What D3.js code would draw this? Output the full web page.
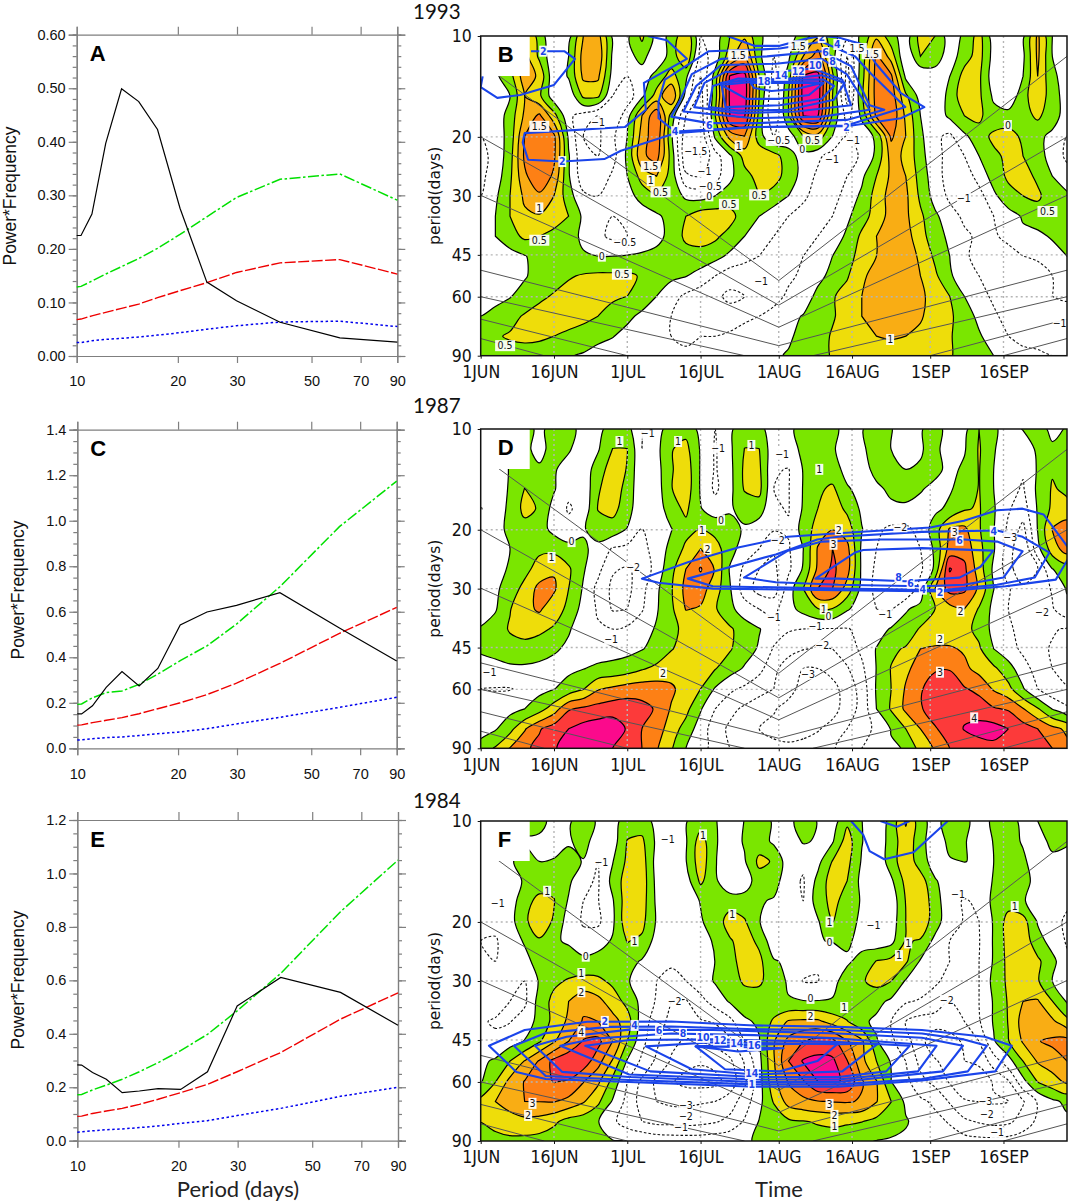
<!DOCTYPE html>
<html>
<head>
<meta charset="utf-8">
<script src="https://cdn.jsdelivr.net/npm/d3@7"></script>
<style>
body { margin: 0; background: #fff; }
svg { display: block; }
</style>
</head>
<body>
<div id="chart"></div>
<script>
// periods (days) sampled by the power spectra on the left
var specPeriods = [10,10.3,11.1,12.2,13.6,15.3,17.4,20.3,24.4,29.9,40.3,60.7,90];

var blackA = [.225,.225,.265,.397,.499,.475,.423,.276,.138,.103,.063,.034,.026];
var greenA = [.129,.13,.14,.153,.167,.182,.201,.227,.26,.296,.33,.34,.291];
var redA   = [.068,.069,.075,.0815,.089,.097,.109,.122,.137,.156,.174,.18,.153];
var blueA  = [.025,.025,.0285,.031,.033,.0355,.039,.0435,.05,.0565,.0635,.065,.055];

var blackC = [.151,.151,.187,.268,.337,.274,.351,.542,.599,.628,.684,.529,.384];
var greenC = [.193,.195,.222,.245,.252,.281,.326,.385,.45,.546,.71,.974,1.174];
var redC   = [.102,.103,.113,.123,.135,.152,.174,.2,.236,.286,.373,.505,.619];
var blueC  = [.037,.037,.042,.047,.05,.056,.064,.072,.086,.107,.136,.18,.224];

var blackE = [.284,.283,.255,.23,.18,.186,.195,.192,.258,.504,.611,.555,.432];
var greenE = [.172,.173,.19,.208,.23,.258,.292,.337,.398,.486,.626,.857,1.05];
var redE   = [.091,.092,.102,.111,.121,.136,.155,.18,.211,.258,.33,.455,.553];
var blueE  = [.032,.033,.037,.041,.044,.049,.055,.065,.075,.094,.121,.166,.2];

var specTicks = [10,20,30,50,70,90];
var periodTicks = [10,20,30,45,60,90];
var dateTicks = [0,15,30,45,61,76,92,107];
var dateLabels = ["1JUN","16JUN","1JUL","16JUL","1AUG","16AUG","1SEP","16SEP"];

// wavelet grid: rows are periods, columns are days since 1 June (every 3 days)
var gridPeriods = [10,11.5,13.2,15.1,17.3,19.9,22.8,26.2,30,34.5,39.6,45.4,52,59.8,68.6,78.7,90];
var gridDays = d3.range(0,121,3);

var fieldB = [
[-.2,.1,.6,1.1,.3,-.5,-.2,1,1.2,-.1,-.1,.6,-.2,.1,1,-.5,-.3,.5,.9,.1,-.3,-.2,.2,.9,.2,-.4,.1,.9,.2,-.3,.7,.5,-.3,.1,.7,-.3,-.4,-.1,1.1,0,-.3],
[-.2,0,.6,1.2,.4,-.4,0,1.2,1.4,-.1,-.2,.2,-.4,.2,1,-.7,-.3,.8,1.6,.1,-.5,-.1,1,1.8,.2,-1,.2,1.6,.8,-.5,.5,.3,-.3,.3,.7,-.2,-.4,-.1,1.1,0,-.3],
[-.3,-.1,.3,1.3,.9,-.4,.05,1.1,1.1,-.2,-.5,-.3,.2,.7,.1,-1,.2,2.55,2.7,.5,-.7,.2,2.55,2.7,.6,-1.2,.3,1.7,1.6,-.1,-.5,-.3,0,.7,.6,-.3,-.5,0,1,.1,-.2],
[-.3,-.3,0,1,.6,-.3,-.4,.6,.6,-.5,-.8,-.1,.7,1.5,-.2,-1.2,.3,2.6,2.8,.5,-1,.5,2.7,2.8,.5,-1.2,.4,1.7,1.8,.6,-.2,-.5,.2,.8,.6,-.1,-.4,.3,.9,.2,-.2],
[-.4,-.3,.2,1.1,1.6,.7,-.4,-.7,-1,-1,-.2,1,1.9,.3,-1,-1.3,.5,2.5,2.55,.3,-1,.5,2.5,2.55,.4,-.7,.1,1.6,1.9,.9,0,-.3,.1,.5,.6,.2,.2,.3,.6,.2,-.2],
[-.5,-.3,.2,1.5,1.95,1.6,-.1,-1,-1.1,-.6,0,1.2,1.9,.1,-1.3,-1.4,.1,1.2,1.5,.2,-.5,-.3,.5,.8,0,-.5,-.3,.1,1.6,1,.1,-.4,-.6,-.1,.3,.6,.7,.4,.1,-.1,-.5],
[-.6,-.4,.3,1.6,1.98,1.6,.05,-.9,-1,-.7,.1,1.4,1.7,.3,-1.4,-1.5,-.7,-.1,.7,.9,.7,.2,-.2,-.4,-.7,-.8,-.4,.1,1.2,.9,.2,-.4,-.6,-.5,0,.4,.6,.5,.2,-.2,-.6],
[-.6,-.3,.4,1.4,1.9,1.4,.05,-.8,-.9,-.4,0,.7,1,.3,-.9,-1,-.7,-.1,.3,.7,.7,.3,-.2,-.6,-.9,-.5,-.1,.5,1.1,1,.3,-.3,-.7,-.8,-.3,.2,.6,.7,.4,0,-.3],
[-.5,-.1,.5,1.1,1.4,1,.2,-.4,-.5,-.4,-.2,.2,.5,.3,-.1,-.2,0,.2,.4,.5,.3,0,-.4,-.7,-.7,-.3,.1,.7,1.2,1.1,.4,-.2,-.6,-1,-.7,-.1,.3,.5,.6,.2,.1],
[-.3,0,.5,.9,.95,.8,.5,-.1,-.4,-.5,-.4,-.3,-.1,.2,.5,.8,.8,.7,.2,0,-.3,-.5,-.7,-.6,-.5,-.1,.3,.7,1.2,1.1,.6,.1,-.3,-.6,-.8,-.5,-.2,.05,.2,.3,.2],
[-.2,0,.3,.6,.5,.3,.2,-.1,-.4,-.6,-.5,-.4,-.2,.2,.6,.7,.6,.3,0,-.3,-.5,-.6,-.8,-.5,-.3,.1,.6,1,1.3,1.2,.7,.2,-.1,-.4,-.6,-.6,-.3,-.1,-.1,.05,.25],
[-.3,-.2,-.2,-.03,.2,.3,.2,.05,0,0,.03,.1,.2,.3,.3,.3,.15,-.1,-.3,-.5,-.6,-.6,-.5,-.3,0,.3,.7,1,1.3,1.3,.9,.4,0,-.4,-.7,-.8,-.8,-.5,-.4,-.2,0],
[-.3,-.2,-.2,-.05,.2,.3,.45,.55,.6,.6,.6,.45,.25,.1,.02,-.2,-.5,-.8,-.9,-1,-.8,-.6,-.4,-.1,.1,.45,.9,1.2,1.3,1.3,1,.6,.05,-.2,-.5,-.8,-1,-1,-.8,-.5,-.3],
[-.3,-.2,-.03,.2,.4,.55,.7,.75,.7,.6,.5,.25,0,-.3,-.6,-.8,-.9,-1.1,-1,-.9,-.7,-.4,-.2,.1,.45,.7,1,1.3,1.4,1.4,1.1,.8,.5,0,-.3,-.6,-.9,-.9,-.7,-.5,-.4],
[0,.2,.35,.55,.7,.75,.7,.65,.5,.25,.1,-.1,-.3,-.5,-.7,-.8,-.8,-.8,-.6,-.5,-.3,-.1,.02,.2,.45,.7,1,1.2,1.3,1.25,1.05,.8,.6,.2,-.1,-.4,-.7,-.8,-.9,-.9,-.8],
[.3,.45,.55,.6,.6,.5,.4,.25,.1,.02,-.15,-.3,-.4,-.5,-.6,-.5,-.5,-.4,-.3,-.2,-.1,-.05,.1,.3,.55,.7,.9,1,1.05,1,.9,.7,.55,.25,.05,-.2,-.5,-.7,-.7,-.7,-.7],
[.1,.2,.3,.3,.2,.1,.03,-.05,-.15,-.25,-.3,-.35,-.4,-.4,-.4,-.4,-.3,-.25,-.2,-.1,-.05,.03,.1,.3,.55,.65,.7,.75,.75,.7,.65,.6,.55,.3,.1,0,-.2,-.3,-.4,-.5,-.5]
];

var fieldD = [
[-.3,-.3,.2,.5,-.3,.5,.5,-.5,-.3,.5,.4,-1.1,-.4,.5,.7,-.3,-1,-.2,.7,.3,-.5,-.3,.5,.7,.3,-.4,-.05,.4,.05,-.5,-.1,.5,-.5,-.3,1,.2,-.5,.05,.5,-.3,.1],
[-.5,-.3,.1,.3,-.4,.5,.1,-.5,-.1,1.02,1.02,-1,-.3,.95,1.3,-.1,-1.1,-.2,1.02,1.02,-.7,-.2,.1,.5,.1,-.4,-.1,.25,0,-.6,-.1,.4,-.8,-.1,1.1,.1,-.7,-.7,.2,.2,.05],
[-.6,-.4,.05,.5,.2,.1,-.4,-.6,.5,1.5,.95,-1,-.4,.9,1.6,-.1,-1.1,-.3,1.2,1.2,-.9,-1.05,.05,.6,.4,-.3,-.4,.3,.3,0,.1,.3,-.3,.2,1.05,0,-.5,-.9,.1,.9,.3],
[-.7,-.5,.1,1.02,.5,.1,-.8,-.8,.9,1.5,.7,-.9,-.5,.95,1.6,-.1,-1.2,-.3,1.1,1.3,-1,-1.05,.05,.8,1.2,.1,-.3,-.2,.2,.4,.1,-.3,-.1,.4,1.05,0,-.7,-1.1,.2,1.1,.8],
[-1.05,-.5,.2,1.3,.9,-.4,-1.1,-.7,1.05,1.3,.5,-.9,-.6,.6,1.2,.05,-.5,-.1,.3,.5,-.9,-1.05,.1,1,1.5,.8,-.2,-.5,-.2,-.2,-.4,-.2,.2,.9,1.1,.1,-.9,-1.5,.1,1.2,1.3],
[-.5,-.3,.2,.6,.4,-.3,-.7,-.1,.5,.6,-.05,-1,-.9,-.05,.7,1.05,.7,.3,-.1,-.6,-.9,-.9,.4,1.4,1.95,1.5,.05,-.8,-1.2,-1.2,-.7,.5,2.1,2.2,1.1,.05,-1.2,-2.3,.05,2.05,2.6],
[-.7,-.4,0,.6,.8,.7,.35,.15,-.3,-1.1,-1.3,-1.3,-.6,.3,1.2,2,1.4,.4,-.5,-1,-1.9,-1.1,-.02,2.1,3,2.3,-.2,-1,-1.6,-1.6,-1,.2,2.4,2.7,1.3,.1,-1.5,-3,-.3,1.5,2.5],
[-.8,-.3,.1,.7,1.4,1.9,1.15,.1,-.7,-1.9,-2.1,-1.7,-.6,.7,2,3.1,1.9,-.1,-1.2,-2,-2.2,-1.2,.1,2.2,3.2,2.4,-.2,-1.2,-2,-2,-1.2,.2,4.1,3.2,1.5,-.2,-1.5,-3,-2,-.02,.4],
[-.6,-.2,.5,1.3,2.3,2.15,1,-.1,-1.3,-2.2,-2.3,-1.3,-.2,.9,2.3,2.4,1.5,.1,-1.5,-2.4,-2.5,-.5,1,3,3,1.6,-.3,-1.3,-2,-1.9,-.6,2,3.4,3.2,1.8,.02,-.9,-1.7,-1.6,-.9,.1],
[-.3,-.1,.95,1.7,2.15,1.4,.8,-.4,-1.1,-2.1,-2,-1.1,-.1,.8,2.05,1.9,1.1,.25,-.5,-1,-1.3,-.3,.3,.95,.95,.1,-.4,-1,-1.1,-.1,.3,1,1.6,2,.9,-.3,-1,-1.2,-1.6,-1.1,-.3],
[.05,.5,1.1,1.3,1.2,.9,.1,-.5,-.9,-1,-.8,-.4,.1,.8,1.2,1.4,1.4,1.15,.5,.05,-.5,-.9,-1,-1.05,-1.05,-1.05,-.8,-.5,.1,.4,1.1,1.5,1.5,1.3,.7,-.3,-.9,-1.2,-1.6,-1.9,-2.1],
[.1,.3,.6,.7,.5,.15,-.2,-.5,-.5,-.4,-.3,-.05,.3,.95,1.3,1.5,1.5,1.1,.4,-.1,-1.1,-1.6,-1.95,-2.1,-2,-1.5,-.8,.05,.8,1.1,2,2.1,2.1,1.9,1.15,0,-.6,-1.2,-1.7,-2.1,-2.5],
[-.3,-.3,-.2,-.2,-.3,-.4,-.2,-.03,.2,.3,.5,.9,1.25,1.5,1.5,1.4,1.05,.4,-.1,-.7,-1.7,-2.6,-3,-3,-2.7,-2.1,-1.2,.03,1.05,1.8,2.4,2.9,2.95,2.2,1.7,1.2,.4,-.6,-1.4,-2,-2.5],
[-1,-1.05,-1.05,-.8,-.3,-.03,.4,.95,1.9,2.2,2.5,2.6,2.5,2.2,1.5,1,-.1,-.8,-1.2,-1.7,-2,-2.6,-3.4,-3.6,-3.3,-2.6,-1.6,.1,1,2.1,2.9,3.5,3.5,3.1,2.7,1.9,1.3,.1,-1,-1.7,-1.9],
[-.8,-.6,-.3,0,.6,1.5,2.9,3.2,3.4,3.6,3.6,3.3,2.9,1.9,1.3,.1,-1,-1.7,-2.2,-2.5,-2.9,-3.4,-3.7,-3.8,-3.4,-2.5,-1.7,0,1.1,2.2,2.9,3.5,3.7,3.8,3.6,3.1,2.9,2.05,1.1,-.05,-.8],
[-.4,-.1,.7,1.9,2.9,3.5,4,4.4,4.6,4.6,3.9,3,2.5,1.5,.6,-.5,-1.5,-2.2,-2.5,-3,-3.3,-3.4,-3.4,-3.1,-2.6,-2,-1.4,-.8,.05,1,2,2.9,3.5,4.05,4.3,4.4,4,3.5,3,2.3,1.8],
[.4,1.1,2.05,2.8,3.3,3.9,4.4,4.7,4.6,4,3.5,3,2.1,1.1,0,-.7,-1.3,-2,-2.2,-2.7,-2.7,-2.8,-2.6,-2.4,-2.1,-1.6,-1,-.5,-.1,.05,1.4,2.1,3,3.4,3.6,3.7,3.6,3.3,3.2,3,2.3]
];

var fieldF = [
[-.3,-.3,-.3,.2,.3,-.3,-.1,.4,-.1,-.4,.5,.5,-.3,-.5,-.05,.5,.05,-.4,.02,.4,-.1,-.3,.5,-.05,-.5,.8,.02,-.7,.3,2.1,.4,-.5,.7,.3,-.5,.2,.5,-.3,0,.3,.2],
[-.5,-.5,-.4,-.1,-.2,-.5,-.1,.3,-.4,-.5,1.05,1.2,-.2,-1,-.1,1.5,.1,-.5,.1,.5,-.2,-.6,.1,-.1,-.1,1.5,.05,-.7,.4,1.7,.4,-.7,.3,.1,-.6,.05,.4,-.1,-.5,.3,.1],
[-.5,-.4,-.1,.3,0,.1,.3,-.05,-1,-.05,1.2,1.5,-.4,-1,-.05,1.6,.1,-1,-.1,1.25,.9,-.6,-.8,-.3,1.05,1.3,-.1,-.8,.5,1.7,.5,-.5,-.1,.02,-.1,0,.5,.2,-.6,-.3,-.3],
[-.6,-.5,-.4,.1,.3,.7,.2,-.8,-1.1,.3,1.5,1.6,-.3,-1,-.5,1.2,.2,-.9,-.5,.5,.4,-.6,-1.1,.3,1.5,1,-.3,-1,-.2,1.3,1.5,.1,-.5,-.6,-.8,.1,.5,.1,-.1,-.6,-.7],
[-.8,-.6,-.4,.5,1.4,1.05,-.1,-1,-1.05,-.1,1.6,1.5,-.2,-.8,-.5,.05,.5,.6,.4,.1,-.1,-.6,-1,.5,1.3,.6,-.1,-1,-.7,1.05,1.7,.5,-.8,-1.05,-.9,.3,.6,.1,-.5,-.9,-.9],
[-1,-.7,-.4,.85,1.5,.9,-.5,-1.1,-1.2,-.2,1.7,1.3,-.1,-.9,-.9,-.1,.5,1.4,1.1,.02,-.3,-.5,-.6,-.1,1.05,.4,-.2,-1,-.6,1,1.7,.5,-.7,-1.05,-1,.1,1.4,1.4,-.1,-.8,-1.1],
[-1,-1.1,-.5,.1,.9,.1,-.1,-.7,-.4,.1,1.05,.8,-.4,-.9,-.8,-.3,.1,.9,1.4,.8,-.7,-.5,-.5,-.02,.02,.1,-.2,-.6,-.3,1.1,.9,-.3,-1,-1.1,-1.05,.1,1.4,1.6,.4,-.4,-1.1],
[-.7,-1,-.9,-.3,.4,.7,.4,.3,.4,.4,.35,-.1,-.7,-.9,-1,-.7,.02,.6,1.5,1.25,.1,-.2,-.6,-.9,-.3,-.1,.2,1.05,1.3,1.15,-.1,-.7,-1,-1.2,-1,.1,1.3,1.6,1.2,.3,-.8],
[-.3,-.7,-.9,-1,.1,.8,1.1,1.3,1.2,.8,.1,-.5,-1,-1.2,-1,-.5,.1,.4,1.2,1.2,.4,-.1,-1.05,-1.05,-.2,.3,.9,1.3,1.02,-.1,-.5,-.9,-1.2,-1.3,-1,.3,1.2,1.4,1.1,0,-.5],
[-.2,-.6,-1,-1.2,.4,1.3,2,2.7,2.3,1.5,.7,-.3,-1.1,-2,-2.1,-1.3,-.6,.1,.3,.4,.2,.05,.05,.05,.05,.3,.6,.3,-.2,-.9,-1.1,-1.3,-2,-1.6,-1,.1,1.1,2,2.1,1.02,-.1],
[-.9,-1.1,-1.05,-.5,.3,1.3,2.2,3.1,3,2.4,1.5,-.5,-1.5,-2.3,-2.4,-2.1,-1.9,-1.3,-.1,.1,1.2,2.1,2.2,2.2,1.6,1.05,.2,-.2,-1,-2,-2.4,-2.6,-2.4,-2,-1.1,.1,1.05,2.4,2.5,2.2,1.3],
[-1,-.8,-.4,.05,.9,1.9,3,4.1,4.3,3,1,-.7,-1.8,-2.8,-3.1,-3,-2.7,-2.2,-1,-.05,1.9,3.3,4,4.4,4.3,3.1,2.2,.1,-.8,-1.6,-2.7,-3.6,-3.5,-2.8,-2,-.1,.95,2.1,2.95,3.2,3.4],
[-.2,.15,1,2.05,3.1,4.3,4.9,4.6,3.4,1.9,-.1,-1.2,-2.2,-3.1,-3.7,-3.9,-3.7,-3.2,-1.9,-.3,1.9,4,5.1,5.3,5.2,4.05,2.3,1,-.1,-1,-2.3,-2.9,-3.4,-3,-2.8,-1.5,-.4,1,2.1,2.5,3],
[-.1,.95,2.3,3.05,3.6,4.05,3.9,3.05,2.2,.7,-1,-2.2,-3.2,-3.9,-4.3,-4.4,-4.3,-3.6,-2.2,-.4,1.7,3.1,3.9,5,5.1,4.9,3.1,2.05,0,-.7,-1.7,-2.3,-3.1,-3.7,-3.6,-2.9,-2.1,-.3,1.05,1.6,2.2],
[1.3,2,2.5,3,3.02,3.05,2.7,2.1,1.2,-.1,-1.3,-2.4,-3,-3.2,-3.2,-3.1,-3,-2.5,-1.5,-.3,1.1,2.4,2.7,2.95,3.05,3.1,2.9,2.05,1.02,-.2,-.8,-1.2,-2.1,-2.9,-3.02,-3.1,-3,-2.1,-.9,-.2,.2],
[1.02,1.3,1.5,1.7,1.6,1.2,.6,.4,.05,-.8,-1.5,-2,-2.3,-2.3,-2.4,-2.3,-2.1,-1.7,-.9,.05,.2,.8,.95,1.08,1.2,1.1,1.03,.7,.4,.1,-.4,-.7,-1.1,-1.8,-2.1,-2.3,-2.2,-1.6,-.8,-.4,-.2],
[.5,.7,.8,.7,.6,.4,.3,.2,.1,.05,-.02,-.1,-.3,-.4,-.4,-.4,-.3,-.2,-.1,.1,.6,.6,.6,.6,.5,.5,.1,-.02,-.1,-.2,-.3,-.4,-.5,-.6,-.7,-.7,-.6,-.4,-.3,-.2,-.1]
];

var shadeLevelsB = [0,.5,1,1.5,2,2.5];
var shadeColorsB = ["#7ae600","#eedd0a","#f9ad14","#fd8015","#fc3a3a","#fb0a8c"];
var shadeLevelsD = [0,1,2,3,4];
var shadeColorsD = ["#7ae600","#eedd0a","#fd8015","#fc3a3a","#fb0a8c"];
var shadeLevelsF = [0,1,2,3,4,5];
var shadeColorsF = ["#7ae600","#eedd0a","#f9ad14","#fd8015","#fc3a3a","#fb0a8c"];
var dashLevelsB = [-.5,-1,-1.5,-2];
var dashLevelsD = [-1,-2,-3,-4];

// cone of influence lines (day, period)
var coiLines = [
  [[0,12],[61,53.7],[120,11.5]],
  [[0,20],[61,63.6],[120,20]],
  [[0,29.9],[61,74],[120,29.9]],
  [[0,50],[61,84],[120,50]]
];
var coiShort = [
  [[0,60],[54,90]], [[120,60],[68,90]],
  [[0,70],[30,90]], [[120,70],[92,90]],
  [[0,80],[13,90]], [[120,80],[107,90]]
];

// blue contours of the second field (day, period)
var blueOpenB = [
  [[.4,13.2],[0,14.2],[3.4,15.3],[8.1,15],[15,14],[19.3,11.7],[17.1,11.1],[10.3,11.1]],
  [[34.2,10],[38.1,10.3],[42.2,11.7],[33.4,13.8],[33.8,16.6],[29.5,18.7],[9,19.5],[8.6,20.8],[9.7,23.4],[16.7,23.7],[25.3,23.3],[28.7,22],[39.8,19.5],[56,18.7],[74.9,18.6],[86,17.6],[90.8,16.3],[86,14.8],[80.9,12.1],[78.3,10.6],[73.2,10.1],[69.8,10],[66.4,10.2],[61.2,10.7],[56,10.7],[50.5,10]]
];
var blueB = [
  [[39.8,19.3],[36.4,17.6],[36.4,15.7],[37.7,13.5],[46.7,11.1],[55.2,11],[61.2,10.9],[69.8,10.4],[76.6,11.5],[80,13],[86.9,16.3],[74.9,18.5],[56,18.7]],
  [[46.7,18.2],[39,17.4],[40.7,15.7],[43.2,13],[49.2,11.7],[58.6,11.5],[69.8,11.1],[75.8,12.3],[79.6,16.1],[82.6,16.6],[74.9,17.8],[56,18.2]],
  [[41.5,16.8],[44.1,14.1],[49.2,12.2],[60.4,12.1],[69.8,11.7],[74.9,13],[79.6,16.6],[69.8,17.4],[56,17.6]],
  [[43.7,16.3],[45.8,13.8],[50.1,12.8],[60.4,12.8],[68,12.5],[74,13.5],[75.8,16.1],[64.6,16.8],[52.7,17]],
  [[46.7,16.3],[47.5,14.1],[52.7,13.4],[61.2,13.5],[69.8,13.1],[74.5,13.8],[72.3,15.5],[62.9,16.6],[52.7,16.7]],
  [[49.2,13.8],[56,13.5],[62,13.5],[70.2,13.5],[72.3,14.1],[69.8,15.4],[61.2,16.1],[50.1,16.3]],
  [[49.2,14],[56,13.7],[62.9,13.7],[70.2,13.8],[67.2,15],[61.2,15.4],[54.4,15.4]],
  [[55.2,13.8],[62,13.8],[69.8,13.8],[64.6,14.4],[59.5,14.6],[56,14.3]]
];
var blueD = [
  [[33,28],[42.4,25],[52.7,22.6],[62.9,21],[73.2,20.5],[92,19.7],[98.9,18.8],[105.7,17.5],[110.9,17.3],[115.2,18],[121,23.4],[117.7,28.2],[107.4,29.5],[94.6,30.6],[73.2,30.3],[47.5,30],[36.4,28.8]],
  [[42.4,28],[60.4,23.7],[68.9,21.4],[73.2,21],[90.3,20.3],[105.7,20.1],[110.9,21],[116.4,23.4],[113.4,27.8],[105.7,29.2],[94.6,30.3],[73.2,30],[47.5,29.5]],
  [[53.9,27.8],[62.9,23.1],[69.8,21.7],[81.8,21.4],[98.9,21.4],[105.7,21.7],[110.9,23.2],[107,27.8],[98.9,29.2],[90.3,29.5],[73.2,29.2],[60.4,28.7]],
  [[68.5,28],[76.6,23.4],[78.3,23],[90.3,22.7],[104.9,23.1],[102.3,25.8],[98,27.8],[86.9,28.5],[73.2,28]]
];
var blueOpenF = [
  [[75.8,10],[78.3,11],[79.6,12.3],[82.6,13],[88.6,12.4],[95.6,10]],
  [[81.8,10],[85.2,10.4],[87.8,10]]
];
var blueF = [
  [[1.7,46.8],[9,42],[21.8,39.7],[39,39.6],[56,40.7],[73.2,41.1],[90.3,42],[103.2,44],[108.7,46.8],[105.3,55.8],[90.3,59.4],[73.2,62],[56,62],[30.4,60],[13.3,58.8],[7.3,56]],
  [[6.8,46.8],[13.3,42.9],[26.1,41.1],[39,41],[56,41.8],[73.2,42],[90.3,43],[98.9,44.8],[103.6,46.8],[99.7,55.8],[90.3,58.8],[73.2,61],[56,61],[30.4,59.2],[13.3,57.6]],
  [[11.1,46.8],[17.6,44],[30.4,41.9],[47.5,42],[73.2,43],[90.3,44.3],[98.7,46.8],[94.6,55.8],[73.2,60],[56,60],[30.4,58],[16.7,56]],
  [[16.3,46.8],[23.5,44.5],[39,43],[56,43.5],[73.2,44.5],[93.3,46.8],[89.5,55.8],[73.2,59],[56,59],[30.4,57]],
  [[21.4,46.8],[30.4,45],[47.5,44.8],[73.2,45.6],[87.8,46.8],[83,55.8],[73.2,58],[56,58],[34.7,55.8]],
  [[33.8,47],[47.5,45.7],[73.2,46.3],[81.3,46.1],[74,55.8],[56,57],[43.2,55]],
  [[44,47],[60.4,46.3],[73.2,46],[68.9,52],[61.2,55.8],[50,55]],
  [[44,47],[52.7,48.7],[62,47.6],[52.7,47.2]]
];

// contour labels: day, period, text
var labelsB = [[12,18.6,"1.5"],[12,32.6,"1"],[12,40.7,"0.5"],[24.8,45.4,"0"],[28.9,51.4,"0.5"],[5,84,"0.5"],[34.8,24.5,"1.5"],[34.8,27,"1"],[36.8,29.2,"0.5"],[46.8,30,"0"],[50.8,31.8,"0.5"],[57,29.8,"0.5"],[52.8,21.3,"1"],[61,20.5,"\u22120.5"],[65.8,21.8,"0"],[67.9,20.4,"0.5"],[76.2,20.5,"\u22121"],[71.9,23.3,"\u22121"],[44,22,"\u22121.5"],[45.8,25.4,"\u22121"],[47,28,"\u22120.5"],[29.5,41.3,"\u22120.5"],[83.8,80.5,"1"],[116,33.4,"0.5"],[107.9,18.5,"0"],[98.9,30.4,"\u22121"],[57.4,53.8,"\u22121"],[118.5,72,"\u22121"],[24,18.1,"\u22121"],[52.7,11.4,"1.5"],[80,11.3,"1.5"],[65,10.7,"1.5"],[77,10.9,"1.5"]];
var labelsD = [[28.4,10.9,"1"],[18.6,21.7,"0"],[14.5,24.2,"1"],[40.4,10.9,"1"],[55.4,11.2,"1"],[48.6,11.4,"\u22121"],[49.2,18.7,"0"],[45.3,20.1,"1"],[46.4,22.8,"2"],[31.2,25.8,"\u22122"],[26.7,42.5,"\u22121"],[1.8,53.3,"\u22121"],[37.3,53.6,"2"],[34.2,10.3,"\u22121"],[60,36.4,"\u22121"],[61.7,11.9,"\u22121"],[69.3,13.2,"1"],[85.9,19.6,"\u22122"],[73.3,20,"2"],[72.2,22.1,"3"],[60.8,21.5,"\u22122"],[70.2,34.5,"1"],[71.2,36.3,"0"],[82.8,35.7,"\u22121"],[68.5,38.8,"\u22121"],[69.9,44.4,"\u22122"],[67,54,"\u22123"],[94,42.5,"2"],[94,53.3,"3"],[101,73,"4"],[98.2,35,"2"],[114.9,35.2,"\u22122"],[108.4,21,"\u22123"],[97,20.3,"3"]];
var labelsF = [[13.6,16.2,"1"],[24.7,13.3,"\u22121"],[3.5,17.6,"\u22121"],[31.5,22.8,"1"],[45.5,11,"1"],[38.3,11.3,"\u22121"],[21.5,25.3,"0"],[20.6,28.5,"1"],[20.6,32.3,"2"],[51.5,19,"1"],[39.7,34.5,"\u22122"],[42,70.5,"\u22123"],[42,76,"\u22122"],[41,82,"\u22121"],[10.6,69.5,"3"],[9.7,75.5,"2"],[20.6,42.5,"4"],[71.4,20,"1"],[71.4,23,"0"],[67.5,33.8,"0"],[74.4,36,"1"],[67.5,38.2,"2"],[85.6,25.2,"1"],[87.5,23.1,"1"],[109.3,18,"1"],[80.4,20.4,"\u22121"],[97.7,16.5,"\u22121"],[95.4,34.3,"\u22122"],[103.3,68.6,"\u22123"],[103.6,75,"\u22122"],[105.7,85,"\u22121"],[71.4,70,"3"],[72.4,75.5,"2"],[72.4,81.5,"1"]];
var blueLabelsB = [[12.8,11.1,"2"],[16.7,23.7,"2"],[39.8,19.3,"4"],[46.8,18.4,"6"],[74.9,18.7,"2"],[58,13.6,"18"],[61.5,13.1,"14"],[65,12.7,"12"],[68.5,12.2,"10"],[72,11.9,"8"],[70.6,11.2,"6"],[73,10.6,"4"],[69.8,10.1,"2"]];
var blueLabelsD = [[94,30.8,"2"],[90.5,30.1,"4"],[88,28.9,"6"],[85.5,27.7,"8"],[98,21.5,"6"],[105,20.2,"4"]];
var blueLabelsF = [[25.4,39.6,"2"],[31.5,40.7,"4"],[36.5,42,"6"],[41.4,43,"8"],[45.5,44.2,"10"],[49,45,"12"],[52.4,46,"14"],[56,46.7,"16"],[55.5,56.6,"14"],[55.5,61,"1"]];

var svg = d3.select("#chart").append("svg")
  .attr("width", 1072)
  .attr("height", 1203)
  .attr("font-family", "'Liberation Sans', Arial, sans-serif");

var condensed = "'DejaVu Sans Condensed', 'DejaVu Sans', sans-serif";
var axisGrey = "#7f7f7f";

// left column: power spectra
function specPanel(box, maxY, majorStep, minorStep, fmt, series, letter) {
  var x = d3.scaleLog().domain([10,90]).range([box.left, box.right]);
  var y = d3.scaleLinear().domain([0,maxY]).range([box.bottom, box.top]);
  var majors = d3.range(0, Math.round(maxY/majorStep)+1).map(function(i){ return i*majorStep; });
  var minors = d3.range(0, Math.round(maxY/minorStep)+1).map(function(i){ return i*minorStep; });
  var g = svg.append("g");

  function styleAxis(a) {
    a.selectAll("path").attr("stroke", axisGrey).attr("stroke-width", 1.2);
    a.selectAll("line").attr("stroke", axisGrey).attr("stroke-width", 1.2);
    a.selectAll("text").attr("font-size", 14.5).attr("font-family", "'Liberation Sans', Arial, sans-serif").attr("fill", "#111");
  }
  var noLabel = function(){ return ""; };
  g.append("g").attr("transform","translate(0,"+box.bottom+")")
    .call(d3.axisBottom(x).tickValues(specTicks).tickFormat(d3.format("d")).tickSizeOuter(0).tickSize(7).tickPadding(13)).call(styleAxis);
  g.append("g").attr("transform","translate(0,"+box.top+")")
    .call(d3.axisTop(x).tickValues(specTicks).tickFormat(noLabel).tickSizeOuter(0).tickSize(8)).call(styleAxis);
  g.append("g").attr("transform","translate("+box.left+",0)")
    .call(d3.axisLeft(y).tickValues(minors).tickFormat(noLabel).tickSizeOuter(0).tickSize(4)).call(styleAxis);
  g.append("g").attr("transform","translate("+box.left+",0)")
    .call(d3.axisLeft(y).tickValues(majors).tickFormat(d3.format(fmt)).tickSizeOuter(0).tickSize(8).tickPadding(3)).call(styleAxis);
  g.append("g").attr("transform","translate("+box.right+",0)")
    .call(d3.axisRight(y).tickValues(minors).tickFormat(noLabel).tickSizeOuter(0).tickSize(4)).call(styleAxis);
  g.append("g").attr("transform","translate("+box.right+",0)")
    .call(d3.axisRight(y).tickValues(majors).tickFormat(noLabel).tickSizeOuter(0).tickSize(8)).call(styleAxis);

  var line = d3.line()
    .x(function(d,i){ return x(specPeriods[i]); })
    .y(function(d){ return y(d); });

  g.append("path").attr("d", line(series[3])).attr("fill","none").attr("stroke","#0000ee").attr("stroke-width",1.5).attr("stroke-dasharray","2.5,2.5");
  g.append("path").attr("d", line(series[2])).attr("fill","none").attr("stroke","#ee0000").attr("stroke-width",1.4).attr("stroke-dasharray","11,2.5");
  g.append("path").attr("d", line(series[1])).attr("fill","none").attr("stroke","#00e000").attr("stroke-width",1.5).attr("stroke-dasharray","11,2.5,2.5,2.5");
  g.append("path").attr("d", line(series[0])).attr("fill","none").attr("stroke","#000").attr("stroke-width",1.2);

  g.append("text").attr("x", box.left+13).attr("y", box.top+26.5)
    .attr("font-size", 22).attr("font-weight","bold").text(letter);
  g.append("text")
    .attr("transform","translate("+box.titleX+","+box.titleY+") rotate(-90)")
    .attr("text-anchor","middle").attr("font-size", 17.5).attr("fill","#111").text("Power*Frequency");
}

specPanel({left:76.7,right:397.3,top:34.7,bottom:356,titleX:16,titleY:196}, .6, .1, .02, ".2f", [blackA,greenA,redA,blueA], "A");
specPanel({left:77.3,right:396.7,top:429.7,bottom:748.3,titleX:24,titleY:590}, 1.4, .2, .05, ".1f", [blackC,greenC,redC,blueC], "C");
specPanel({left:77.3,right:398,top:820,bottom:1140.7,titleX:24,titleY:980}, 1.2, .2, .05, ".1f", [blackE,greenE,redE,blueE], "E");

// right column: wavelet power
var rowToPeriod = d3.scaleLinear().domain(d3.range(gridPeriods.length)).range(gridPeriods);

function wavePanel(id, box, field, shadeLevels, shadeColors, dashLevels, blue, blueOpen, labels, blueLabels, letter) {
  var x = d3.scaleLinear().domain([0,120]).range([box.left, box.right]);
  var y = d3.scaleLog().domain([10,90]).range([box.top, box.bottom]);
  var nx = gridDays.length, ny = gridPeriods.length;
  var flat = d3.merge(field);
  var contours = d3.contours().size([nx,ny]).smooth(true);
  var ringLine = d3.line().curve(d3.curveCatmullRomClosed.alpha(.5));

  function ringPath(c) {
    var parts = [];
    c.coordinates.forEach(function(poly){
      poly.forEach(function(ring){
        var pts = ring.slice(0,-1).map(function(p){
          var day = (p[0]-.5)*3;
          var row = p[1]-.5;
          var per = row < 0 ? gridPeriods[0]*Math.pow(gridPeriods[1]/gridPeriods[0], row) : rowToPeriod(row);
          if (row > ny-1) per = 90*Math.pow(90/78.7, row-(ny-1));
          return [x(day), y(per)];
        });
        parts.push(ringLine(pts));
      });
    });
    return parts.join("");
  }

  svg.append("clipPath").attr("id","clip"+id).append("rect")
    .attr("x",box.left).attr("y",box.top).attr("width",box.right-box.left).attr("height",box.bottom-box.top);
  var g = svg.append("g");
  var plot = g.append("g").attr("clip-path","url(#clip"+id+")");

  // shaded bands
  shadeLevels.forEach(function(level,i){
    plot.append("path").attr("d", ringPath(contours.contour(flat, level)))
      .attr("fill", shadeColors[i]).attr("fill-rule","evenodd")
      .attr("stroke","#000").attr("stroke-width",1.2);
  });
  // negative contours
  dashLevels.forEach(function(level){
    plot.append("path").attr("d", ringPath(contours.contour(flat, level)))
      .attr("fill","none").attr("stroke","#111").attr("stroke-width",1.1).attr("stroke-dasharray","2.6,2");
  });

  // dotted grid
  dateTicks.slice(1).forEach(function(d){
    plot.append("line").attr("x1",x(d)).attr("x2",x(d)).attr("y1",box.top).attr("y2",box.bottom)
      .attr("stroke","#b5b5b5").attr("stroke-width",1.4).attr("stroke-dasharray","2,3");
  });
  periodTicks.slice(1,-1).forEach(function(d){
    plot.append("line").attr("x1",box.left).attr("x2",box.right).attr("y1",y(d)).attr("y2",y(d))
      .attr("stroke","#b5b5b5").attr("stroke-width",1.4).attr("stroke-dasharray","2,3");
  });

  // cone of influence
  var plain = d3.line().x(function(d){return x(d[0]);}).y(function(d){return y(d[1]);});
  coiLines.concat(coiShort).forEach(function(l){
    plot.append("path").attr("d",plain(l)).attr("fill","none").attr("stroke","#555").attr("stroke-width",1);
  });

  // second field in blue
  blue.forEach(function(l){
    plot.append("path").attr("d",plain.curve(d3.curveLinearClosed)(l)).attr("fill","none")
      .attr("stroke","#1a44ea").attr("stroke-width",2.1).attr("stroke-linejoin","round");
  });
  blueOpen.forEach(function(l){
    plot.append("path").attr("d",plain.curve(d3.curveLinear)(l)).attr("fill","none")
      .attr("stroke","#1a44ea").attr("stroke-width",2.1).attr("stroke-linejoin","round");
  });

  function addLabels(list, color) {
    var lab = plot.selectAll(null).data(list).enter().append("g")
      .attr("transform",function(d){ return "translate("+x(d[0])+","+y(d[1])+")"; });
    lab.append("rect")
      .attr("x",function(d){ return -d[2].length*3-1; }).attr("y",-5.5)
      .attr("width",function(d){ return d[2].length*6+2; }).attr("height",11).attr("fill","#fff").attr("opacity",.92);
    lab.append("text").attr("text-anchor","middle").attr("dy","0.36em")
      .attr("font-size",10.5).attr("font-family",condensed).attr("fill",color)
      .attr("font-weight", color === "#111" ? "normal" : "bold")
      .text(function(d){ return d[2]; });
  }
  addLabels(labels,"#111");
  addLabels(blueLabels,"#1a44ea");

  // white box behind the panel letter
  g.append("rect").attr("x",box.left).attr("y",box.top).attr("width",49).attr("height",40).attr("fill","#fff");
  g.append("text").attr("x",box.left+17).attr("y",box.top+26)
    .attr("font-size",22).attr("font-weight","bold").text(letter);

  // frame and axes
  g.append("rect").attr("x",box.left).attr("y",box.top).attr("width",box.right-box.left).attr("height",box.bottom-box.top)
    .attr("fill","none").attr("stroke","#111").attr("stroke-width",1.5);
  var ax = g.append("g").attr("transform","translate(0,"+box.bottom+")")
    .call(d3.axisBottom(x).tickValues(dateTicks).tickFormat(function(d,i){ return dateLabels[i]; }).tickSizeOuter(0).tickSize(3).tickPadding(7));
  var ay = g.append("g").attr("transform","translate("+box.left+",0)")
    .call(d3.axisLeft(y).tickValues(periodTicks).tickFormat(d3.format("d")).tickSizeOuter(0).tickSize(3).tickPadding(6));
  [ax,ay].forEach(function(a){
    a.select("path").remove();
    a.selectAll("text").attr("font-size",17.5).attr("font-family",condensed).attr("fill","#111");
    a.selectAll("line").attr("stroke","#111");
  });
  g.append("text")
    .attr("transform","translate("+(box.left-41)+","+((box.top+box.bottom)/2)+") rotate(-90)")
    .attr("text-anchor","middle").attr("font-size",15.5).attr("font-family","'DejaVu Sans', sans-serif").attr("fill","#111").text("period(days)");
}

wavePanel("B",{left:480.7,right:1067,top:36,bottom:355.7},fieldB,shadeLevelsB,shadeColorsB,dashLevelsB,blueB,blueOpenB,labelsB,blueLabelsB,"B");
wavePanel("D",{left:480.7,right:1067,top:429,bottom:748.3},fieldD,shadeLevelsD,shadeColorsD,dashLevelsD,blueD,[],labelsD,blueLabelsD,"D");
wavePanel("F",{left:480.7,right:1067,top:821,bottom:1141},fieldF,shadeLevelsF,shadeColorsF,dashLevelsD,blueF,blueOpenF,labelsF,blueLabelsF,"F");

// free labels
var calibriLike = "Lato, 'Open Sans', sans-serif";
[["1993",413,19],["1987",413,413],["1984",413,808]].forEach(function(t){
  svg.append("text").attr("x",t[1]).attr("y",t[2]).attr("font-family",calibriLike).attr("font-size",20.5).attr("fill","#111").text(t[0]);
});
svg.append("text").attr("x",238).attr("y",1197).attr("text-anchor","middle").attr("font-family",calibriLike).attr("font-size",22).attr("fill","#222").text("Period (days)");
svg.append("text").attr("x",779).attr("y",1197).attr("text-anchor","middle").attr("font-family",calibriLike).attr("font-size",22).attr("fill","#222").text("Time");
</script>
</body>
</html>
